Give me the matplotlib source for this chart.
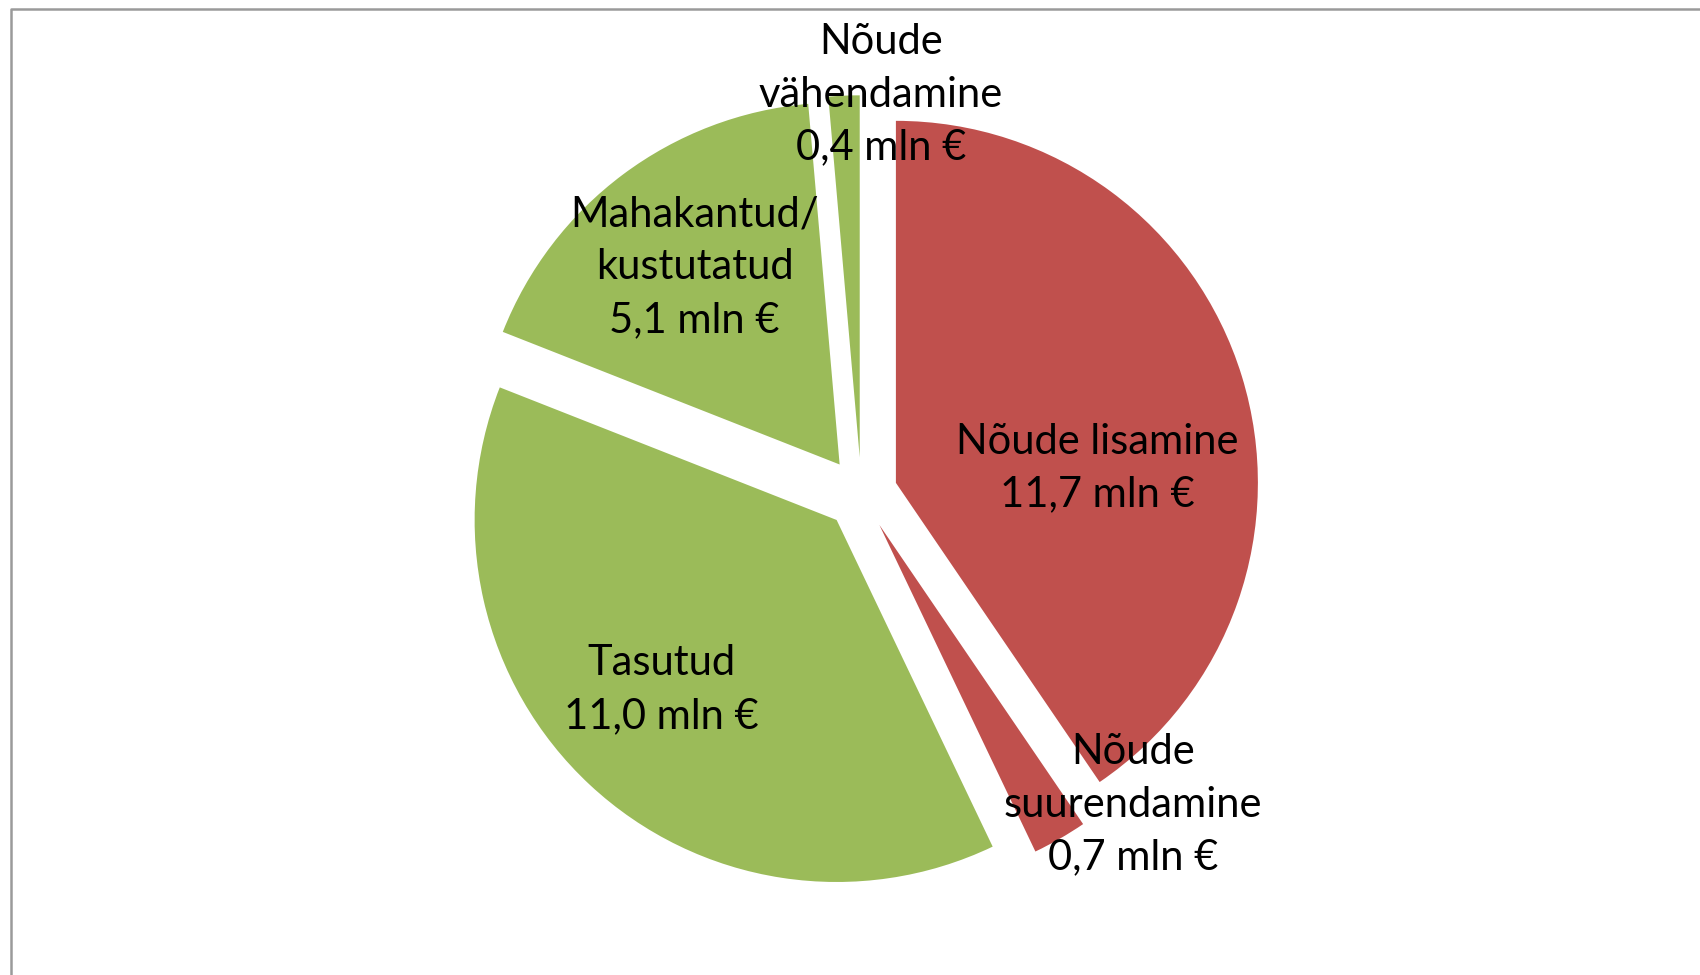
import numpy as np
import matplotlib
matplotlib.use("Agg")
import matplotlib.pyplot as plt
from matplotlib.lines import Line2D

# data
names = ["Nõude lisamine", "Nõude\nsuurendamine", "Tasutud", "Mahakantud/\nkustutatud", "Nõude\nvähendamine"]
values = [11.7, 0.7, 11.0, 5.1, 0.4]
colors = ["#C0504D", "#C0504D", "#9BBB59", "#9BBB59", "#9BBB59"]

# label placement: (distance in radii, angle in degrees) from pie centre
label_pos = [(0.655, 6.2), (1.141, -48.9), (0.773, -135.5), (0.776, 126.4), (1.102, 87.2)]

W, H = 1700, 975
cx, cy, R = 861.3, 493.5, 362.0   # pixel position of pie centre / radius

fig = plt.figure(figsize=(W / 100, H / 100), dpi=100)
ax = fig.add_axes([0, 0, 1, 1])
ax.pie(values, colors=colors, startangle=90, counterclock=False,
       explode=[0.1] * len(values), radius=1, wedgeprops=dict(linewidth=0))
ax.set_xlim(-cx / R, (W - cx) / R)
ax.set_ylim(-(H - cy) / R, cy / R)
ax.set_aspect("equal")
ax.axis("off")

for name, v, (d, a) in zip(names, values, label_pos):
    txt = name + "\n" + f"{v:.1f}".replace(".", ",") + " mln €"
    ax.text(d * np.cos(np.radians(a)), d * np.sin(np.radians(a)), txt,
            ha="center", va="center", fontsize=30, family=["Lato", "DejaVu Sans"],
            linespacing=1.47, color="black")

# chart area frame
x0 = 10.5 / W
y0 = 1 - 8.5 / H
fig.add_artist(Line2D([x0, x0, 1], [0, y0, y0], color="#9a9a9a", lw=1.8))

plt.savefig("out.png", dpi=100)
